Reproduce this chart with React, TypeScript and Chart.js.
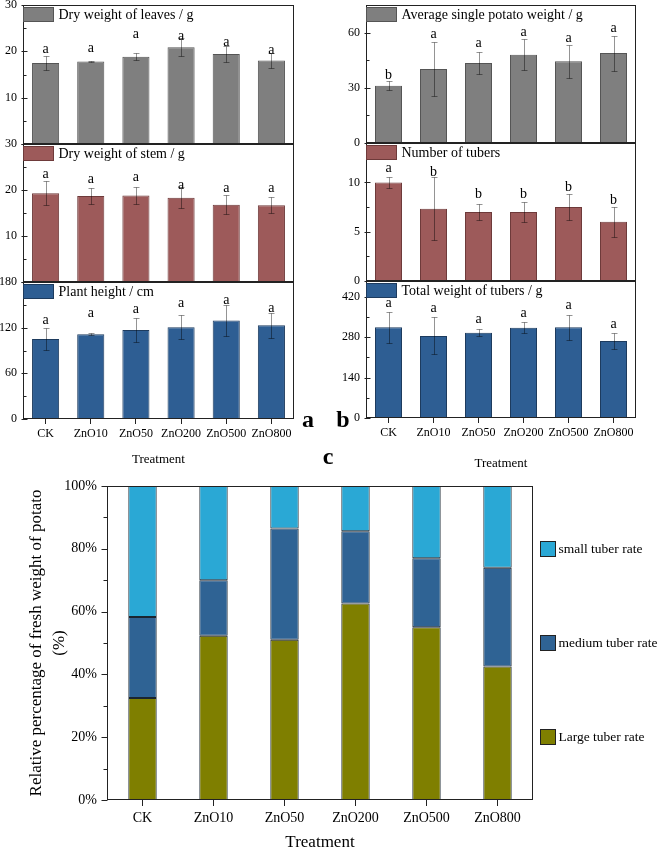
import React, { useEffect, useRef } from 'react';
import { Chart, registerables } from 'chart.js';

Chart.register(...registerables);

const SERIF = '"Liberation Serif", "Times New Roman", serif';

// ---------------- data ----------------
const categories = ['CK', 'ZnO10', 'ZnO50', 'ZnO200', 'ZnO500', 'ZnO800'];

const leavesMean = [17.5, 17.8, 18.85, 20.9, 19.4, 18.0];
const leavesErr = [1.6, 0.2, 0.75, 2.0, 1.65, 1.7];
const leavesLetters = ['a', 'a', 'a', 'a', 'a', 'a'];
const leavesLetterY = [19.7, 19.9, 22.9, 22.5, 21.2, 19.5];

const stemMean = [19.3, 18.7, 18.8, 18.3, 16.8, 16.7];
const stemErr = [2.6, 1.8, 1.95, 2.3, 2.1, 1.8];
const stemLetters = ['a', 'a', 'a', 'a', 'a', 'a'];
const stemLetterY = [22.6, 21.6, 22.0, 20.3, 19.5, 19.5];

const heightMean = [105, 111.4, 117, 120.6, 129.3, 123.2];
const heightErr = [14, 1, 16, 15.5, 20, 16.6];
const heightLetters = ['a', 'a', 'a', 'a', 'a', 'a'];
const heightLetterY = [124.4, 134.5, 138.9, 147.7, 151, 140];

const potatoWeightMean = [31.1, 40.2, 43.5, 48, 44.4, 48.9];
const potatoWeightErr = [2.4, 14.8, 6.2, 8.3, 9.1, 9.5];
const potatoWeightLetters = ['b', 'a', 'a', 'a', 'a', 'a'];
const potatoWeightLetterY = [35, 56.9, 52, 58.4, 54.7, 60.2];

const tuberCountMean = [10, 7.33, 7.0, 7.0, 7.5, 6.0];
const tuberCountErr = [0.6, 3.2, 0.85, 1.0, 1.35, 1.5];
const tuberCountLetters = ['a', 'b', 'b', 'b', 'b', 'b'];
const tuberCountLetterY = [11.1, 10.7, 8.4, 8.4, 9.1, 7.85];

const tuberWeightMean = [314.6, 284.5, 296, 313, 314.6, 267];
const tuberWeightErr = [53, 64, 12, 20, 44, 28];
const tuberWeightLetters = ['a', 'a', 'a', 'a', 'a', 'a'];
const tuberWeightLetterY = [383.7, 368.8, 330.8, 351.5, 377.8, 311];

const largeRate = [32.5, 52.3, 51, 62.6, 55, 42.5];
const mediumRate = [25.8, 17.7, 35.5, 23, 22, 31.5];
const smallRate = [41.7, 30, 13.5, 14.4, 23, 26];

const leavesTicks = [0, 10, 20, 30];
const leavesMinor = [5, 15, 25];
const stemTicks = [0, 10, 20, 30];
const stemMinor = [5, 15, 25];
const heightTicks = [0, 60, 120, 180];
const heightMinor = [30, 90, 150];
const potatoTicks = [0, 30, 60];
const potatoMinor = [15, 45];
const countTicks = [0, 5, 10];
const countMinor = [2.5, 7.5, 12.5];
const weightTicks = [0, 140, 280, 420];
const weightMinor = [70, 210, 350];
const percentTicks = [0, 20, 40, 60, 80, 100];
const percentMinor = [10, 30, 50, 70, 90];

const GREY = '#7f7f7f';
const MAROON = '#9d5a5a';
const BLUE = '#2e5e93';

// ---------------- panels ----------------
type Big = { text: string; x: number; y: number };
type PanelSpec = {
  title: string;
  mean: number[];
  err: number[];
  letters: string[];
  letterY: number[];
  color: string;
  border: string;
  max: number;
  majors: number[];
  minors: number[];
  hideZero: boolean;
  rect: { x0: number; x1: number; y0: number; y1: number };
  colLeft: number;
  colRight: number;
  xTitleY?: number;
  big?: Big[];
};

function BarPanel({ spec }: { spec: PanelSpec }) {
  const ref = useRef<HTMLCanvasElement | null>(null);
  const { x0, x1, y0, y1 } = spec.rect;
  const hasX = spec.xTitleY != null;
  const top = y0 - 18;
  const bottom = hasX ? (spec.xTitleY as number) + 10 : y1 + 18;
  const left = spec.colLeft;
  const width = spec.colRight - spec.colLeft;
  const height = bottom - top;

  useEffect(() => {
    const font = { family: SERIF, size: 12 };
    const plugin = {
      id: 'panelDecor',
      afterDatasetsDraw(chart: any) {
        const { ctx, chartArea: ca, scales } = chart;
        const ys = scales.y;
        const meta = chart.getDatasetMeta(0);
        ctx.save();
        // error bars
        ctx.strokeStyle = 'rgba(0,0,0,0.42)';
        ctx.lineWidth = 1;
        meta.data.forEach((bar: any, i: number) => {
          const x = Math.round(bar.x) + 0.5;
          const yt = Math.round(ys.getPixelForValue(spec.mean[i] + spec.err[i])) + 0.5;
          const yb = Math.round(ys.getPixelForValue(spec.mean[i] - spec.err[i])) + 0.5;
          ctx.beginPath();
          ctx.moveTo(x, yt);
          ctx.lineTo(x, yb);
          ctx.moveTo(x - 3, yt);
          ctx.lineTo(x + 3, yt);
          ctx.moveTo(x - 3, yb);
          ctx.lineTo(x + 3, yb);
          ctx.stroke();
        });
        // significance letters
        ctx.fillStyle = '#000';
        ctx.font = `14px ${SERIF}`;
        ctx.textAlign = 'center';
        ctx.textBaseline = 'alphabetic';
        meta.data.forEach((bar: any, i: number) => {
          ctx.fillText(spec.letters[i], bar.x, ys.getPixelForValue(spec.letterY[i]));
        });
        // frame
        ctx.strokeStyle = '#222';
        ctx.lineWidth = 1;
        ctx.strokeRect(Math.round(ca.left) + 0.5, Math.round(ca.top) + 0.5,
          Math.round(ca.right - ca.left) - 1, Math.round(ca.bottom - ca.top) - 1);
        // y ticks
        const ax = Math.round(ca.left) + 0.5;
        ctx.beginPath();
        spec.majors.forEach((v) => {
          const y = Math.round(ys.getPixelForValue(v)) + 0.5;
          ctx.moveTo(ax - 2, y);
          ctx.lineTo(ax + 4, y);
        });
        spec.minors.forEach((v) => {
          const y = Math.round(ys.getPixelForValue(v)) + 0.5;
          ctx.moveTo(ax, y);
          ctx.lineTo(ax + 3, y);
        });
        ctx.stroke();
        // legend box
        const bx = Math.round(ca.left) + 0.5;
        const by = Math.round(ca.top) + 2.5;
        ctx.fillStyle = spec.color;
        ctx.fillRect(bx, by, 30, 14);
        ctx.strokeStyle = spec.border;
        ctx.strokeRect(bx, by, 30, 14);
        ctx.fillStyle = '#000';
        ctx.font = `14px ${SERIF}`;
        ctx.textAlign = 'left';
        ctx.textBaseline = 'middle';
        ctx.fillText(spec.title, bx + 35, by + 7.5);
        // panel labels
        if (spec.big) {
          ctx.font = `bold 24px ${SERIF}`;
          ctx.textAlign = 'center';
          ctx.textBaseline = 'alphabetic';
          spec.big.forEach((b) => ctx.fillText(b.text, b.x - left, b.y - top));
        }
        ctx.restore();
      },
    };

    const chart = new Chart(ref.current as HTMLCanvasElement, {
      type: 'bar',
      data: {
        labels: categories,
        datasets: [
          {
            data: spec.mean,
            backgroundColor: spec.color,
            borderColor: spec.border,
            borderWidth: 1,
            barPercentage: 0.6,
            categoryPercentage: 1,
          },
        ],
      },
      options: {
        responsive: false,
        animation: false,
        devicePixelRatio: 1,
        layout: {
          padding: { top: y0 - top, right: spec.colRight - x1, bottom: hasX ? 0 : bottom - y1, left: 0 },
        },
        plugins: { legend: { display: false }, tooltip: { enabled: false } },
        scales: {
          x: {
            type: 'category',
            display: hasX,
            offset: true,
            grid: { display: true, drawOnChartArea: false, drawTicks: true, tickLength: 5, offset: false, color: '#222' },
            border: { display: false },
            ticks: { font, color: '#000', padding: 3, maxRotation: 0, autoSkip: false },
            title: {
              display: true,
              text: 'Treatment',
              color: '#000',
              font: { family: SERIF, size: 13, lineHeight: 1.2 },
              padding: { top: 0, bottom: 1 },
            },
            afterFit: (s: any) => {
              if (hasX) s.height = bottom - y1;
              else s.height = 0;
            },
          },
          y: {
            min: 0,
            max: spec.max,
            afterFit: (s: any) => {
              s.width = x0 - spec.colLeft;
            },
            afterBuildTicks: (s: any) => {
              s.ticks = spec.majors.map((v) => ({ value: v }));
            },
            ticks: {
              font,
              color: '#000',
              padding: 6,
              callback: (v: any) => (spec.hideZero && Number(v) === 0 ? '' : String(v)),
            },
            grid: { display: false, drawTicks: false },
            border: { display: false },
          },
        },
      } as any,
      plugins: [plugin],
    });
    return () => chart.destroy();
  }, []);

  return (
    <canvas
      ref={ref}
      width={width}
      height={height}
      style={{ position: 'absolute', left, top, width, height }}
    />
  );
}

function StackedChart() {
  const ref = useRef<HTMLCanvasElement | null>(null);
  const left = 0;
  const top = 462;
  const width = 661;
  const height = 851 - 462;
  const x0 = 107;
  const x1 = 533;
  const y0 = 486;
  const y1 = 800;

  useEffect(() => {
    const legendItems = [
      { label: 'small tuber rate', color: '#2aa8d5', dy: 63 },
      { label: 'medium tuber rate', color: '#2f6394', dy: 157 },
      { label: 'Large tuber rate', color: '#7f7f00', dy: 251 },
    ];
    const plugin = {
      id: 'stackDecor',
      afterDatasetsDraw(chart: any) {
        const { ctx, chartArea: ca, scales } = chart;
        const ys = scales.y;
        ctx.save();
        ctx.strokeStyle = '#222';
        ctx.lineWidth = 1;
        ctx.strokeRect(Math.round(ca.left) + 0.5, Math.round(ca.top) + 0.5,
          Math.round(ca.right - ca.left) - 1, Math.round(ca.bottom - ca.top) - 1);
        const ax = Math.round(ca.left) + 0.5;
        ctx.beginPath();
        percentTicks.forEach((v) => {
          const y = Math.round(ys.getPixelForValue(v)) + 0.5;
          ctx.moveTo(ax - 6, y);
          ctx.lineTo(ax, y);
        });
        percentMinor.forEach((v) => {
          const y = Math.round(ys.getPixelForValue(v)) + 0.5;
          ctx.moveTo(ax - 4, y);
          ctx.lineTo(ax, y);
        });
        ctx.stroke();
        // legend
        ctx.font = `13.5px ${SERIF}`;
        ctx.textAlign = 'left';
        ctx.textBaseline = 'middle';
        legendItems.forEach((it) => {
          const bx = Math.round(ca.right) + 7.5;
          const cy = Math.round(ca.top) + it.dy;
          ctx.fillStyle = it.color;
          ctx.fillRect(bx, cy - 7.5, 15, 15);
          ctx.strokeStyle = '#222';
          ctx.strokeRect(bx, cy - 7.5, 15, 15);
          ctx.fillStyle = '#000';
          ctx.fillText(it.label, bx + 18, cy);
        });
        ctx.restore();
      },
    };
    const common = { borderColor: '#1a2530', borderWidth: 1, borderSkipped: false, barPercentage: 0.4, categoryPercentage: 1 };
    const chart = new Chart(ref.current as HTMLCanvasElement, {
      type: 'bar',
      data: {
        labels: categories,
        datasets: [
          { label: 'Large tuber rate', data: largeRate, backgroundColor: '#7f7f00', ...common },
          { label: 'medium tuber rate', data: mediumRate, backgroundColor: '#2f6394', ...common },
          { label: 'small tuber rate', data: smallRate, backgroundColor: '#2aa8d5', ...common },
        ],
      },
      options: {
        responsive: false,
        animation: false,
        devicePixelRatio: 1,
        layout: { padding: { top: y0 - top, right: left + width - x1, bottom: 0, left: 0 } },
        plugins: { legend: { display: false }, tooltip: { enabled: false } },
        scales: {
          x: {
            stacked: true,
            offset: true,
            grid: { display: true, drawOnChartArea: false, drawTicks: true, tickLength: 6, offset: false, color: '#222' },
            border: { display: false },
            ticks: { font: { family: SERIF, size: 14 }, color: '#000', padding: 4, maxRotation: 0, autoSkip: false },
            title: {
              display: true,
              text: 'Treatment',
              color: '#000',
              font: { family: SERIF, size: 17, lineHeight: 1 },
              padding: { top: 0, bottom: 0 },
            },
            afterFit: (s: any) => {
              s.height = top + height - y1;
            },
          },
          y: {
            stacked: true,
            min: 0,
            max: 100,
            afterFit: (s: any) => {
              s.width = x0 - left;
            },
            afterBuildTicks: (s: any) => {
              s.ticks = percentTicks.map((v) => ({ value: v }));
            },
            ticks: {
              font: { family: SERIF, size: 14 },
              color: '#000',
              padding: 10,
              callback: (v: any) => `${v}%`,
            },
            grid: { display: false, drawTicks: false },
            border: { display: false },
            title: {
              display: true,
              text: ['Relative percentage of fresh weight of potato', '(%)'],
              color: '#000',
              font: { family: SERIF, size: 17, lineHeight: 1.35 },
              padding: { top: 25.5, bottom: 0 },
            },
          },
        },
      } as any,
      plugins: [plugin],
    });
    return () => chart.destroy();
  }, []);

  return (
    <canvas
      ref={ref}
      width={width}
      height={height}
      style={{ position: 'absolute', left, top, width, height }}
    />
  );
}

const LEFT_COL = { colLeft: 0, colRight: 320 };
const RIGHT_COL = { colLeft: 318, colRight: 661 };

const panels: PanelSpec[] = [
  {
    title: 'Dry weight of leaves / g', mean: leavesMean, err: leavesErr, letters: leavesLetters, letterY: leavesLetterY,
    color: GREY, border: '#555', max: 30, majors: leavesTicks, minors: leavesMinor, hideZero: true,
    rect: { x0: 23, x1: 294, y0: 5, y1: 144 }, ...LEFT_COL,
  },
  {
    title: 'Dry weight of stem / g', mean: stemMean, err: stemErr, letters: stemLetters, letterY: stemLetterY,
    color: MAROON, border: '#6e3a3a', max: 30, majors: stemTicks, minors: stemMinor, hideZero: true,
    rect: { x0: 23, x1: 294, y0: 144, y1: 282 }, ...LEFT_COL,
  },
  {
    title: 'Plant height / cm', mean: heightMean, err: heightErr, letters: heightLetters, letterY: heightLetterY,
    color: BLUE, border: '#1d3b5e', max: 180, majors: heightTicks, minors: heightMinor, hideZero: false,
    rect: { x0: 23, x1: 294, y0: 282, y1: 419 }, ...LEFT_COL, xTitleY: 458,
    big: [{ text: 'a', x: 308, y: 427 }],
  },
  {
    title: 'Average single potato weight / g', mean: potatoWeightMean, err: potatoWeightErr, letters: potatoWeightLetters,
    letterY: potatoWeightLetterY, color: GREY, border: '#555', max: 75, majors: potatoTicks, minors: potatoMinor,
    hideZero: false, rect: { x0: 366, x1: 636, y0: 5, y1: 143 }, ...RIGHT_COL,
  },
  {
    title: 'Number of tubers', mean: tuberCountMean, err: tuberCountErr, letters: tuberCountLetters, letterY: tuberCountLetterY,
    color: MAROON, border: '#6e3a3a', max: 14, majors: countTicks, minors: countMinor, hideZero: false,
    rect: { x0: 366, x1: 636, y0: 143, y1: 281 }, ...RIGHT_COL,
  },
  {
    title: 'Total weight of tubers / g', mean: tuberWeightMean, err: tuberWeightErr, letters: tuberWeightLetters,
    letterY: tuberWeightLetterY, color: BLUE, border: '#1d3b5e', max: 475, majors: weightTicks, minors: weightMinor,
    hideZero: false, rect: { x0: 366, x1: 636, y0: 281, y1: 418 }, ...RIGHT_COL, xTitleY: 462,
    big: [{ text: 'b', x: 343, y: 427 }, { text: 'c', x: 328, y: 464 }],
  },
];

export default function App() {
  return (
    <div style={{ position: 'absolute', left: 0, top: 0, width: 661, height: 851, background: '#fff', overflow: 'hidden' }}>
      {panels.map((p, i) => (
        <BarPanel key={i} spec={p} />
      ))}
      <StackedChart />
    </div>
  );
}
